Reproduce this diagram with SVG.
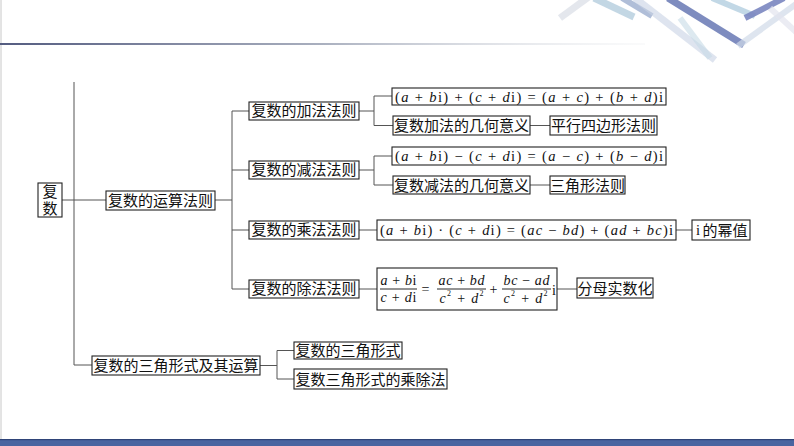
<svg xmlns="http://www.w3.org/2000/svg" width="794" height="446" viewBox="0 0 794 446">
<defs>
<linearGradient id="hl" x1="0" y1="0" x2="1" y2="0">
<stop offset="0" stop-color="#545c80"/>
<stop offset="0.5" stop-color="#aab0bf"/>
<stop offset="1" stop-color="#eef0f2" stop-opacity="0.3"/>
</linearGradient>
<style>
.box{fill:#fff;stroke:#222;stroke-width:1.1}
.cn{font-family:"Noto Sans CJK SC","Noto Sans CJK JP",sans-serif;font-size:15px;fill:#111;text-anchor:middle}
.vt{writing-mode:vertical-rl;letter-spacing:2px}
.m{font-family:"Liberation Serif","DejaVu Serif",serif;font-size:14.5px;fill:#111}
.mf{font-family:"Liberation Serif","DejaVu Serif",serif;font-size:14px;fill:#111;text-anchor:middle}
.v{font-style:italic}
.c{stroke:#555;stroke-width:1;fill:none}
.bar{stroke:#111;stroke-width:0.9}
</style>
</defs>
<rect width="794" height="446" fill="#fff"/>
<g id="decoration">
<line x1="1" y1="0" x2="1" y2="440" stroke="#c8c8c8" stroke-width="1"/>
<rect x="0" y="43" width="645" height="2" fill="url(#hl)"/>
<g stroke-linecap="butt" fill="none">
<line x1="560" y1="18" x2="590" y2="-4" stroke="#d8dde6" stroke-width="7" opacity="0.7"/>
<line x1="594" y1="-2" x2="634" y2="17" stroke="#a9c6d8" stroke-width="7" opacity="0.7"/>
<line x1="622" y1="-2" x2="652" y2="16" stroke="#8ea3c8" stroke-width="6" opacity="0.7"/>
<line x1="635" y1="-2" x2="715" y2="60" stroke="#c8d2e4" stroke-width="7" opacity="0.6"/>
<line x1="668" y1="-2" x2="744" y2="45" stroke="#7080b8" stroke-width="7" opacity="0.9"/>
<line x1="680" y1="18" x2="710" y2="58" stroke="#c6dbe6" stroke-width="6" opacity="0.6"/>
<line x1="712" y1="-2" x2="755" y2="16" stroke="#a8c8dc" stroke-width="6" opacity="0.7"/>
<line x1="745" y1="18" x2="784" y2="-2" stroke="#7a86c0" stroke-width="6" opacity="0.9"/>
<line x1="738" y1="46" x2="796" y2="4" stroke="#d0dae8" stroke-width="6" opacity="0.7"/>
<line x1="770" y1="8" x2="796" y2="32" stroke="#e2e4ee" stroke-width="6" opacity="0.7"/>
</g>
<rect x="0" y="439" width="794" height="7" fill="#4a64a0"/>
<rect x="0" y="439" width="794" height="1.2" fill="#2f4478"/>
</g>
<g id="connectors" class="c">
<path d="M62 200H106M74 82V365H92"/>
<path d="M215 200H232M232 111V289M232 111H249M232 170H249M232 230H249M232 289H249"/>
<path d="M359 111H374M374 96V125.5M374 96H392M374 125.5H393"/>
<path d="M359 170H374M374 156V185M374 156H392M374 185H393"/>
<path d="M530 125.5H550M530 185H550"/>
<path d="M359 230H377M676 230H692"/>
<path d="M359 289H377M557 289H577"/>
<path d="M260 365.5H277M277 350.5V379M277 350.5H294M277 379H294"/>
</g>
<g id="n-fushu"><rect class="box" x="38" y="183" width="24" height="34"/><text class="cn vt" x="50" y="201">复数</text></g>
<g id="n-yunsuan"><rect class="box" x="106" y="191" width="109" height="19"/><text class="cn" x="160.5" y="206">复数的运算法则</text></g>
<g id="n-jia"><rect class="box" x="249" y="102" width="110" height="18"/><text class="cn" x="304" y="116">复数的加法法则</text></g>
<g id="n-jian"><rect class="box" x="249" y="161" width="110" height="18"/><text class="cn" x="304" y="175">复数的减法法则</text></g>
<g id="n-cheng"><rect class="box" x="249" y="221" width="110" height="18"/><text class="cn" x="304" y="235">复数的乘法法则</text></g>
<g id="n-chu"><rect class="box" x="249" y="280" width="110" height="18"/><text class="cn" x="304" y="294">复数的除法法则</text></g>
<g id="n-f1"><rect class="box" x="392" y="88" width="274" height="17"/>
<text class="m" x="395" y="101.5" textLength="268" lengthAdjust="spacing">(<tspan class="v">a</tspan> + <tspan class="v">b</tspan>i) + (<tspan class="v">c</tspan> + <tspan class="v">d</tspan>i) = (<tspan class="v">a</tspan> + <tspan class="v">c</tspan>) + (<tspan class="v">b</tspan> + <tspan class="v">d</tspan>)i</text></g>
<g id="n-jiajihe"><rect class="box" x="393" y="116" width="137" height="19"/><text class="cn" x="461.5" y="131">复数加法的几何意义</text></g>
<g id="n-pingxing"><rect class="box" x="550" y="116" width="107" height="19"/><text class="cn" x="603.5" y="131">平行四边形法则</text></g>
<g id="n-f2"><rect class="box" x="392" y="147" width="274" height="18"/>
<text class="m" x="395" y="161" textLength="268" lengthAdjust="spacing">(<tspan class="v">a</tspan> + <tspan class="v">b</tspan>i) − (<tspan class="v">c</tspan> + <tspan class="v">d</tspan>i) = (<tspan class="v">a</tspan> − <tspan class="v">c</tspan>) + (<tspan class="v">b</tspan> − <tspan class="v">d</tspan>)i</text></g>
<g id="n-jianjihe"><rect class="box" x="393" y="176" width="137" height="18"/><text class="cn" x="461.5" y="190.5">复数减法的几何意义</text></g>
<g id="n-sanjiao"><rect class="box" x="550" y="176" width="75" height="18"/><text class="cn" x="587.5" y="190.5">三角形法则</text></g>
<g id="n-f3"><rect class="box" x="377" y="220" width="299" height="20"/>
<text class="m" x="380" y="235" textLength="293" lengthAdjust="spacing">(<tspan class="v">a</tspan> + <tspan class="v">b</tspan>i) · (<tspan class="v">c</tspan> + <tspan class="v">d</tspan>i) = (<tspan class="v">ac</tspan> − <tspan class="v">bd</tspan>) + (<tspan class="v">ad</tspan> + <tspan class="v">bc</tspan>)i</text></g>
<g id="n-mi"><rect class="box" x="692" y="220" width="58" height="20"/><text class="m" x="696" y="235">i</text><text class="cn" x="725" y="235.5">的幂值</text></g>
<g id="n-f4"><rect class="box" x="377" y="268" width="180" height="42"/>
<text class="mf" x="398.5" y="285" textLength="36" lengthAdjust="spacing"><tspan class="v">a</tspan> + <tspan class="v">b</tspan>i</text>
<line class="bar" x1="380" y1="289" x2="417" y2="289"/>
<text class="mf" x="398.5" y="302" textLength="36" lengthAdjust="spacing"><tspan class="v">c</tspan> + <tspan class="v">d</tspan>i</text>
<text class="mf" x="425.5" y="294">=</text>
<text class="mf" x="461.5" y="285" textLength="46" lengthAdjust="spacing"><tspan class="v">ac</tspan> + <tspan class="v">bd</tspan></text>
<line class="bar" x1="437" y1="289" x2="486" y2="289"/>
<text class="mf" x="461.5" y="303" textLength="44" lengthAdjust="spacing"><tspan class="v">c</tspan><tspan font-size="8" dy="-7">2</tspan><tspan dy="7"> + </tspan><tspan class="v">d</tspan><tspan font-size="8" dy="-7">2</tspan></text>
<text class="mf" x="493.5" y="294">+</text>
<text class="mf" x="526.5" y="285" textLength="46" lengthAdjust="spacing"><tspan class="v">bc</tspan> − <tspan class="v">ad</tspan></text>
<line class="bar" x1="502" y1="289" x2="551" y2="289"/>
<text class="mf" x="525.5" y="303" textLength="44" lengthAdjust="spacing"><tspan class="v">c</tspan><tspan font-size="8" dy="-7">2</tspan><tspan dy="7"> + </tspan><tspan class="v">d</tspan><tspan font-size="8" dy="-7">2</tspan></text>
<text class="mf" x="554" y="295">i</text></g>
<g id="n-fenmu"><rect class="box" x="577" y="278" width="76" height="20"/><text class="cn" x="615" y="293.5">分母实数化</text></g>
<g id="n-sanjiaoxs"><rect class="box" x="92" y="356" width="168" height="19"/><text class="cn" x="176" y="371">复数的三角形式及其运算</text></g>
<g id="n-xs"><rect class="box" x="294" y="342" width="108" height="17"/><text class="cn" x="348" y="356">复数的三角形式</text></g>
<g id="n-chengchu"><rect class="box" x="294" y="369" width="153" height="20"/><text class="cn" x="370.5" y="384.5">复数三角形式的乘除法</text></g>
</svg>
